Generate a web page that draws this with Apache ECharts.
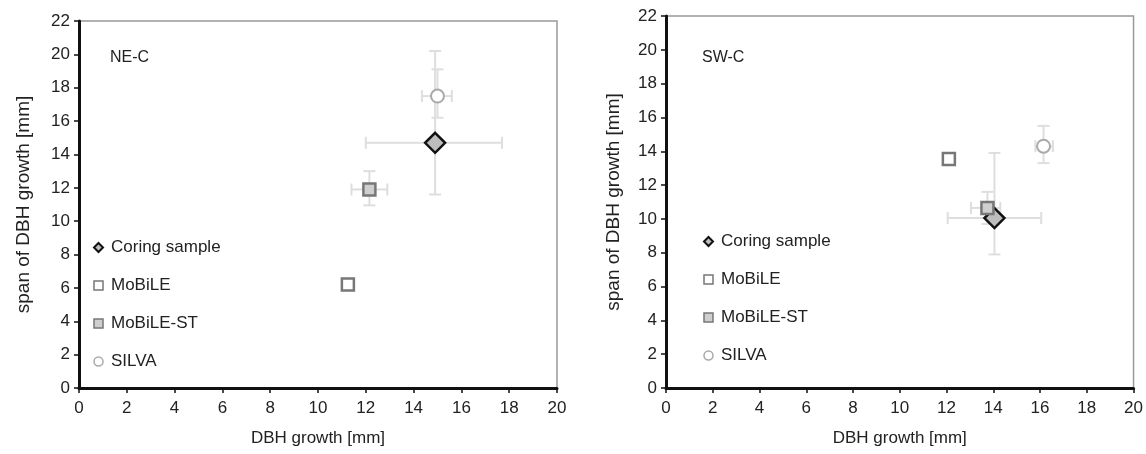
<!DOCTYPE html>
<html>
<head>
<meta charset="utf-8">
<script src="https://cdn.jsdelivr.net/npm/echarts@6/dist/echarts.min.js"></script>
<style>html,body{margin:0;padding:0;background:#fff}#c{width:1146px;height:454px}</style>
</head>
<body>
<div id="c"></div>
<script>
const methods = ['Coring sample', 'MoBiLE', 'MoBiLE-ST', 'SILVA'];
const panels = ['NE-C', 'SW-C'];
const xTicks = [0, 2, 4, 6, 8, 10, 12, 14, 16, 18, 20];
const yTicks = [0, 2, 4, 6, 8, 10, 12, 14, 16, 18, 20, 22];

// NE-C panel
const neX    = [14.9, 11.25, 12.15, 15.0];
const neY    = [14.7, 6.2, 11.9, 17.5];
const neXLo  = [12.0, null, 11.4, 14.35];
const neXHi  = [17.7, null, 12.9, 15.6];
const neYLo  = [11.6, null, 10.95, 16.2];
const neYHi  = [20.2, null, 13.0, 19.1];

// SW-C panel
const swX    = [14.05, 12.1, 13.75, 16.15];
const swY    = [10.05, 13.55, 10.65, 14.3];
const swXLo  = [12.05, null, 13.05, 15.8];
const swXHi  = [16.05, null, 14.3, 16.55];
const swYLo  = [7.9, null, 9.7, 13.3];
const swYHi  = [13.9, null, 11.6, 15.5];

const FONT = "'Liberation Sans', Arial, sans-serif";
const styles = [
  {symbol: 'diamond', size: 20, color: '#bdbdbd', border: '#111', bw: 2.5},
  {symbol: 'rect', size: 12, color: '#ffffff', border: '#777', bw: 2.5},
  {symbol: 'rect', size: 12, color: '#cfcfcf', border: '#777', bw: 2.5},
  {symbol: 'circle', size: 13, color: '#ffffff', border: '#aaa', bw: 2}
];

const chart = echarts.init(document.getElementById('c'));

function errRender(params, api) {
  const x = api.value(0), y = api.value(1);
  const xlo = api.value(2), xhi = api.value(3), ylo = api.value(4), yhi = api.value(5);
  const children = [];
  const st = {stroke: '#dedede', lineWidth: 2};
  const cap = 6;
  if (!isNaN(xlo) && !isNaN(xhi)) {
    const a = api.coord([xlo, y]), b = api.coord([xhi, y]);
    children.push({type: 'line', shape: {x1: a[0], y1: a[1], x2: b[0], y2: b[1]}, style: st});
    children.push({type: 'line', shape: {x1: a[0], y1: a[1] - cap, x2: a[0], y2: a[1] + cap}, style: st});
    children.push({type: 'line', shape: {x1: b[0], y1: b[1] - cap, x2: b[0], y2: b[1] + cap}, style: st});
  }
  if (!isNaN(ylo) && !isNaN(yhi)) {
    const a = api.coord([x, ylo]), b = api.coord([x, yhi]);
    children.push({type: 'line', shape: {x1: a[0], y1: a[1], x2: b[0], y2: b[1]}, style: st});
    children.push({type: 'line', shape: {x1: a[0] - cap, y1: a[1], x2: a[0] + cap, y2: a[1]}, style: st});
    children.push({type: 'line', shape: {x1: b[0] - cap, y1: b[1], x2: b[0] + cap, y2: b[1]}, style: st});
  }
  return {type: 'group', children};
}

const grids = [
  {left: 79, right: 589, top: 21, bottom: 66},
  {left: 666, right: 9, top: 16, bottom: 66}
];

const xAxes = [], yAxes = [], series = [], legends = [], titles = [];
const allData = [
  [neX, neY, neXLo, neXHi, neYLo, neYHi],
  [swX, swY, swXLo, swXHi, swYLo, swYHi]
];
const yNameGap = [46, 43];
grids.forEach((g, gi) => {
  g.show = true; g.borderColor = '#999'; g.borderWidth = 1.5; g.backgroundColor = '#fff';
  xAxes.push({
    type: 'value', gridIndex: gi, min: 0, max: 20, interval: 2,
    name: 'DBH growth [mm]', nameLocation: 'middle', nameGap: 42,
    nameTextStyle: {fontFamily: FONT, fontSize: 17, color: '#222'},
    axisLine: {show: true, onZero: false, lineStyle: {color: '#111', width: 3}},
    axisTick: {show: true, inside: false, length: 5, lineStyle: {color: '#111', width: 1.5}},
    axisLabel: {fontFamily: FONT, fontSize: 17, color: '#222', margin: 12,
      formatter: v => xTicks.includes(v) ? String(v) : ''},
    splitLine: {show: false}
  });
  yAxes.push({
    type: 'value', gridIndex: gi, min: 0, max: 22, interval: 2,
    name: 'span of DBH growth [mm]', nameLocation: 'middle', nameGap: yNameGap[gi],
    nameTextStyle: {fontFamily: FONT, fontSize: 19, color: '#222'},
    axisLine: {show: true, onZero: false, lineStyle: {color: '#111', width: 3}},
    axisTick: {show: true, inside: false, length: 5, lineStyle: {color: '#111', width: 1.5}},
    axisLabel: {fontFamily: FONT, fontSize: 17, color: '#222', margin: 9,
      formatter: v => yTicks.includes(v) ? String(v) : ''},
    splitLine: {show: false}
  });
  const d = allData[gi];
  const errData = methods.map((m, i) => [d[0][i], d[1][i],
    d[2][i] == null ? NaN : d[2][i], d[3][i] == null ? NaN : d[3][i],
    d[4][i] == null ? NaN : d[4][i], d[5][i] == null ? NaN : d[5][i]]);
  series.push({
    type: 'custom', xAxisIndex: gi, yAxisIndex: gi, renderItem: errRender,
    data: errData, z: 1, silent: true, clip: false,
    encode: {x: 0, y: 1}
  });
  methods.forEach((m, i) => {
    const s = styles[i];
    series.push({
      name: m, type: 'scatter', xAxisIndex: gi, yAxisIndex: gi,
      symbol: s.symbol, symbolSize: s.size, z: 5,
      itemStyle: {color: s.color, borderColor: s.border, borderWidth: s.bw, opacity: 1},
      data: [[d[0][i], d[1][i]]]
    });
  });
  titles.push({
    text: panels[gi], left: gi === 0 ? 110 : 702, top: 50, padding: 0,
    textStyle: {fontFamily: FONT, fontSize: 16, fontWeight: 'normal', color: '#222'}
  });
});

function mkLegend(left, top) {
  return {
    orient: 'vertical', left: left, top: top, itemGap: 21, itemWidth: 9, itemHeight: 9,
    data: methods.map((m, i) => ({name: m, icon: styles[i].symbol,
      itemStyle: {color: styles[i].color, borderColor: styles[i].border, borderWidth: i === 0 ? 2 : 1.5}})),
    textStyle: {fontFamily: FONT, fontSize: 17, color: '#222', padding: [0, 0, 0, 3]},
    selectedMode: false
  };
}
legends.push(mkLegend(88, 234));
legends.push(mkLegend(698, 228));

chart.setOption({
  animation: false,
  backgroundColor: '#fff',
  title: titles,
  grid: grids,
  xAxis: xAxes,
  yAxis: yAxes,
  legend: legends,
  series: series
});
</script>
</body>
</html>
